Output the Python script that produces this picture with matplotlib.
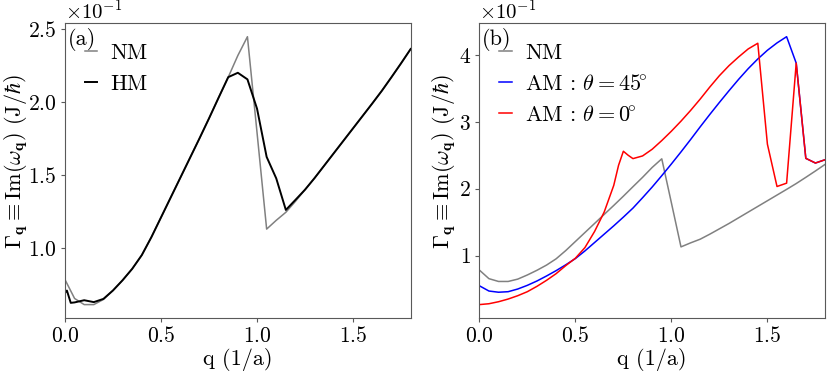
import matplotlib as mpl
mpl.use('Agg')
import matplotlib.pyplot as plt
import numpy as np

mpl.rcParams['font.family'] = 'serif'
mpl.rcParams['font.serif'] = ['cmr10']
mpl.rcParams['mathtext.fontset'] = 'cm'
mpl.rcParams['axes.formatter.use_mathtext'] = True
mpl.rcParams['axes.unicode_minus'] = False
mpl.rcParams['font.size'] = 16

# wavevector grid (1/a)
q = np.round(np.arange(0, 1.8001, 0.05), 3)

# normal metal, Gamma_q in units of 0.1 J/hbar
nm = [0.784, 0.655, 0.613, 0.613, 0.648, 0.71, 0.78, 0.858, 0.952, 1.075,
      1.21, 1.345, 1.48, 1.615, 1.75, 1.888, 2.03, 2.17, 2.318, 2.447,
      1.79, 1.13, 1.19, 1.245, 1.32, 1.40, 1.48, 1.565, 1.65, 1.735,
      1.82, 1.905, 1.99, 2.077, 2.17, 2.265, 2.363]

# half metal (extra points near q=0)
q_hm = [0.0, 0.01, 0.03] + list(q[1:])
hm = [0.693, 0.709, 0.625, 0.628, 0.643, 0.63, 0.652, 0.71, 0.78, 0.858,
      0.952, 1.075, 1.21, 1.345, 1.48, 1.615, 1.75, 1.888, 2.03, 2.17,
      2.20, 2.155, 1.954, 1.624, 1.477, 1.261, 1.33, 1.40, 1.48, 1.565,
      1.65, 1.735, 1.82, 1.905, 1.99, 2.077, 2.17, 2.265, 2.363]

# altermagnet theta = 45 deg
am45 = [0.549, 0.47, 0.452, 0.46, 0.50, 0.555, 0.62, 0.695, 0.775, 0.862,
        0.955, 1.07, 1.195, 1.32, 1.445, 1.575, 1.71, 1.865, 2.025, 2.195,
        2.37, 2.55, 2.735, 2.925, 3.11, 3.29, 3.465, 3.635, 3.795, 3.94,
        4.07, 4.18, 4.273, 3.878, 2.454, 2.384, 2.433]

# altermagnet theta = 0 deg (extra points around the bump)
q_am0 = list(q[:15]) + [0.725, 0.75, 0.775] + list(q[16:])
am0 = [0.267, 0.28, 0.31, 0.35, 0.40, 0.46, 0.54, 0.63, 0.73, 0.85,
       0.96, 1.12, 1.36, 1.65, 2.05, 2.35, 2.56, 2.50, 2.45, 2.49,
       2.59, 2.72, 2.86, 3.01, 3.17, 3.34, 3.52, 3.69, 3.84, 3.97,
       4.09, 4.175, 2.666, 2.033, 2.083, 3.878, 2.454, 2.384, 2.433]

scale = 0.1
ylab = r'$\Gamma_{\mathbf{q}} \equiv \mathrm{Im}(\omega_{\mathbf{q}})$ (J/$\hbar$)'

fig = plt.figure(figsize=(8.3, 3.77), dpi=100)
ax1 = fig.add_axes([0.0783, 0.1565, 0.4165, 0.7817])
ax2 = fig.add_axes([0.5775, 0.1565, 0.4165, 0.7817])

ax1.plot(q, np.array(nm) * scale, color='gray', lw=1.1, label='NM')
ax1.plot(q_hm, np.array(hm) * scale, color='black', lw=1.4, label='HM')

ax2.plot(q, np.array(nm) * scale, color='gray', lw=1.1, label='NM')
ax2.plot(q, np.array(am45) * scale, color='blue', lw=1.1,
         label=r'AM : $\theta = 45\!^{\circ}$')
ax2.plot(q_am0, np.array(am0) * scale, color='red', lw=1.1,
         label=r'AM : $\theta = 0\!^{\circ}$')

for ax, tag, lx in [(ax1, '(a)', -0.102), (ax2, '(b)', -0.062)]:
    ax.set_xlim(0, 1.8)
    ax.set_xticks([0.0, 0.5, 1.0, 1.5])
    ax.ticklabel_format(axis='y', style='sci', scilimits=(0, 0))
    ax.set_xlabel('q (1/a)', labelpad=1)
    ax.set_ylabel(ylab)
    ax.yaxis.set_label_coords(lx, 0.53)
    ax.text(0.008, 0.985, tag, transform=ax.transAxes, ha='left', va='top')
    ax.legend(loc='upper left', frameon=False, handlelength=0.55,
              handletextpad=0.6, labelspacing=0.5, borderaxespad=0.5)
    for s in ax.spines.values():
        s.set_color('0.35')
    ax.tick_params(color='0.35', length=3, pad=3, labelsize=15.5)
    off = ax.yaxis.get_offset_text()
    off.set_x(0.0)
    off.set_fontsize(15)

plt.savefig('out.png', dpi=100)
plt.close()
